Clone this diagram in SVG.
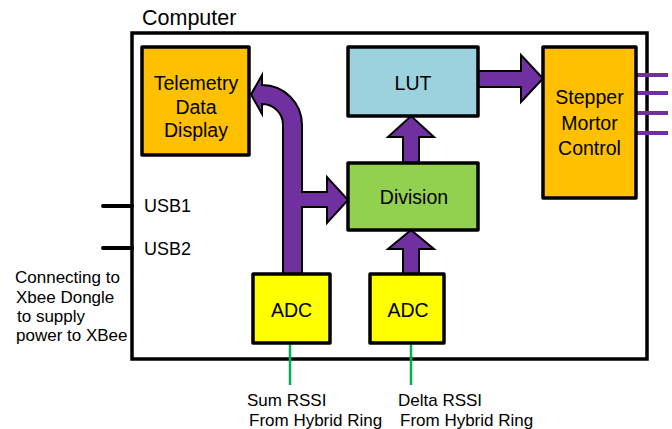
<svg xmlns="http://www.w3.org/2000/svg" width="672" height="429" viewBox="0 0 672 429">
<style>
text{font-family:"Liberation Sans",Arial,sans-serif;fill:#000}
.box{stroke:#000;stroke-width:3.5;stroke-linejoin:round}
.lbl{font-size:19.5px;text-anchor:middle}
.note{font-size:17px}
.arr{fill:#7030A0;stroke:#000;stroke-width:2;stroke-linejoin:miter}
.pin{stroke:#7030A0;stroke-width:4}
.usb{stroke:#000;stroke-width:4;stroke-linecap:round}
.sig{stroke:#00B050;stroke-width:2.5}
</style>
<rect width="672" height="429" fill="#fff"/>
<g id="computer">
<rect x="132" y="33" width="515" height="326" fill="#fff" stroke="#000" stroke-width="3.5"/>
<text x="142" y="25" font-size="21.5">Computer</text>
</g>
<g id="connectors">
<line class="pin" x1="636" y1="75" x2="668" y2="75"/>
<line class="pin" x1="636" y1="93" x2="668" y2="93"/>
<line class="pin" x1="636" y1="113" x2="668" y2="113"/>
<line class="pin" x1="636" y1="133" x2="668" y2="133"/>
<line class="usb" x1="103" y1="206" x2="132" y2="206"/>
<line class="usb" x1="103" y1="248" x2="132" y2="248"/>
<line class="sig" x1="290" y1="343" x2="290" y2="385"/>
<line class="sig" x1="411" y1="343" x2="411" y2="385"/>
<path class="arr" d="M283,274 L283,125 A21,21 0 0 0 262,104 L262,114 L251,94.5 L262,75 L262,85 A40,40 0 0 1 302,125 L302,192 L327,192 L327,177 L348,200 L327,223 L327,207 L302,207 L302,274 Z"/>
<path class="arr" d="M478,71 L521,71 L521,55 L543,78.5 L521,102 L521,87 L478,87 Z"/>
<path class="arr" d="M403,163 L403,137 L388,137 L411,116 L434,137 L419,137 L419,163 Z"/>
<path class="arr" d="M403,274 L403,249 L388,249 L411,230 L434,249 L419,249 L419,274 Z"/>
</g>
<g id="telemetry">
<rect class="box" x="142" y="47" width="107" height="108" fill="#FFC000"/>
<text class="lbl" x="196" y="90">Telemetry</text>
<text class="lbl" x="196" y="113.5">Data</text>
<text class="lbl" x="196" y="136.5">Display</text>
</g>
<g id="lut">
<rect class="box" x="348" y="47" width="130" height="69" fill="#9BD2DD"/>
<text class="lbl" x="413" y="90">LUT</text>
</g>
<g id="division">
<rect class="box" x="348" y="163" width="130" height="67" fill="#92D050"/>
<text class="lbl" x="414" y="204">Division</text>
</g>
<g id="stepper">
<rect class="box" x="543" y="47" width="93" height="151" fill="#FFC000"/>
<text class="lbl" x="589.5" y="104">Stepper</text>
<text class="lbl" x="589.5" y="130">Mortor</text>
<text class="lbl" x="589.5" y="155">Control</text>
</g>
<g id="adc1">
<rect class="box" x="253" y="274" width="77" height="69" fill="#FFFF00"/>
<text class="lbl" x="291.5" y="317">ADC</text>
</g>
<g id="adc2">
<rect class="box" x="370" y="274" width="74" height="69" fill="#FFFF00"/>
<text class="lbl" x="408" y="317">ADC</text>
</g>
<g id="usb1"><text x="144" y="212" font-size="18">USB1</text></g>
<g id="usb2"><text x="144" y="255" font-size="18">USB2</text></g>
<g id="xbee-note">
<text class="note" x="15" y="283">Connecting to</text>
<text class="note" x="16" y="303">Xbee Dongle</text>
<text class="note" x="17" y="322">to supply</text>
<text class="note" x="16" y="341">power to XBee</text>
</g>
<g id="sum-rssi">
<text class="note" x="247" y="406">Sum RSSI</text>
<text class="note" x="249" y="426">From Hybrid Ring</text>
</g>
<g id="delta-rssi">
<text class="note" x="398" y="406">Delta RSSI</text>
<text class="note" x="400" y="426">From Hybrid Ring</text>
</g>
</svg>
